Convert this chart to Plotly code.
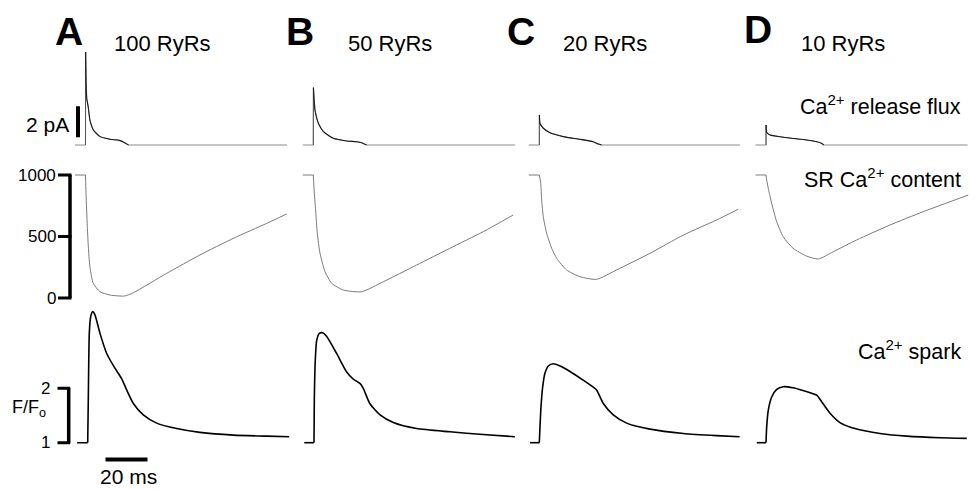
import plotly.graph_objects as go

# ---------------- data ----------------
panel_letters = ["A", "B", "C", "D"]
panel_titles = ["100 RyRs", "50 RyRs", "20 RyRs", "10 RyRs"]

# Ca2+ release flux (pA) vs time (ms)
flux_t_A = [-5, 0, 0.05, 0.25, 0.6, 1.3, 2.1, 3.7, 6.9, 11.7, 16.0, 18.0, 20.5, 96]
flux_v_A = [0, 0, 6.0, 4.0, 3.0, 2.45, 1.6, 0.97, 0.54, 0.37, 0.3, 0.2, 0, 0]
flux_t_B = [-5, 0, 0.05, 0.8, 2.4, 4.8, 9.5, 15.9, 20.6, 23.0, 25.4, 96]
flux_v_B = [0, 0, 3.7, 2.26, 1.4, 0.86, 0.43, 0.26, 0.21, 0.15, 0, 0]
flux_t_C = [-5, 0, 0.05, 0.3, 1.9, 5.1, 11.4, 19.4, 25.7, 28.1, 29.7, 95.5]
flux_v_C = [0, 0, 1.94, 1.4, 1.08, 0.79, 0.54, 0.37, 0.21, 0.06, 0, 0]
flux_t_D = [-5, 0, 0.05, 0.3, 1.9, 8.3, 19.4, 24.3, 26.6, 27.5, 96]
flux_v_D = [0, 0, 1.29, 0.8, 0.65, 0.5, 0.32, 0.21, 0.1, 0, 0]

# SR Ca2+ content (uM) vs time (ms)
sr_t_A = [-5, 0, 0.24, 0.87, 1.35, 2.1, 3.7, 6.9, 11.7, 18.5, 22.8, 38.7, 54.5, 70.4, 86.3, 95.8]
sr_v_A = [1000, 1000, 851, 580, 417, 254, 119, 51, 24, 16, 43, 201, 350, 485, 607, 683]
sr_t_B = [-5, 0, 0.48, 1.1, 1.9, 3.2, 5.6, 8.8, 14.3, 23.0, 33.3, 49.2, 65.0, 80.9, 95.2]
sr_v_B = [1000, 1000, 851, 715, 526, 363, 214, 119, 65, 51, 132, 268, 404, 539, 675]
sr_t_C = [-5, 0, 0.67, 1.14, 1.9, 3.5, 5.9, 8.3, 13.0, 19.4, 27.3, 36.8, 52.7, 68.6, 84.4, 94.7]
sr_v_C = [1000, 1000, 933, 797, 661, 526, 404, 322, 228, 173, 152, 228, 363, 512, 634, 721]
sr_t_D = [-5, 0, 0.33, 1.1, 2.7, 5.1, 8.2, 12.9, 19.3, 24.9, 32.0, 43.2, 59.0, 74.9, 96.3]
sr_v_D = [1000, 1000, 959, 891, 770, 620, 498, 404, 341, 317, 376, 472, 593, 702, 837]

# Ca2+ spark (F/F0) vs time (ms)
spark_t_A = [-4, 1.05, 1.33, 1.81, 2.48, 3.43, 4.5, 6.9, 10.1, 14.0, 17.2, 19.6, 22.8, 27.5, 33.9, 43.4, 54.5, 70.4, 86.3, 97.1]
spark_v_A = [1, 1, 1.78, 3.01, 3.32, 3.41, 3.35, 3.01, 2.64, 2.37, 2.18, 1.97, 1.72, 1.51, 1.36, 1.26, 1.19, 1.14, 1.12, 1.11]
spark_t_B = [-4.3, 0.33, 0.48, 0.95, 1.62, 2.86, 4.48, 6.4, 11.1, 15.9, 19.0, 22.2, 23.8, 26.9, 31.8, 38.1, 49.2, 65.1, 80.9, 96.0]
spark_v_B = [1, 1, 1.78, 2.52, 2.88, 3.01, 3.02, 2.95, 2.64, 2.30, 2.17, 2.09, 2.00, 1.72, 1.51, 1.37, 1.26, 1.20, 1.15, 1.11]
spark_t_C = [-4.4, 0, 0.33, 0.81, 1.62, 2.71, 4.29, 6.67, 9.86, 14.6, 20.9, 25.7, 27.3, 30.5, 35.2, 41.6, 52.7, 68.6, 84.4, 95.4]
spark_v_C = [1, 1, 1.29, 1.66, 2.03, 2.28, 2.41, 2.45, 2.41, 2.31, 2.15, 2.02, 1.97, 1.72, 1.51, 1.36, 1.25, 1.17, 1.13, 1.11]
spark_t_D = [-4.4, 0, 0.33, 1.1, 2.7, 5.1, 8.2, 12.9, 17.6, 22.4, 24.3, 27.1, 30.5, 35.2, 43.2, 54.3, 67.0, 82.9, 95.6]
spark_v_D = [1, 1, 1.29, 1.60, 1.84, 1.98, 2.03, 2.01, 1.96, 1.90, 1.87, 1.72, 1.54, 1.37, 1.25, 1.17, 1.12, 1.09, 1.08]

row_labels = ["Ca<sup>2+</sup> release flux", "SR Ca<sup>2+</sup> content", "Ca<sup>2+</sup> spark"]
sr_ticks = [0, 500, 1000]
spark_ticks = [1, 2]
flux_bar_pA = 2
time_bar_ms = 20

flux_t = [flux_t_A, flux_t_B, flux_t_C, flux_t_D]
flux_v = [flux_v_A, flux_v_B, flux_v_C, flux_v_D]
sr_t = [sr_t_A, sr_t_B, sr_t_C, sr_t_D]
sr_v = [sr_v_A, sr_v_B, sr_v_C, sr_v_D]
spark_t = [spark_t_A, spark_t_B, spark_t_C, spark_t_D]
spark_v = [spark_v_A, spark_v_B, spark_v_C, spark_v_D]

# ---------------- layout geometry ----------------
W, H = 977, 489
PX_PER_MS = 2.1
onset_px = [85.5, 313.3, 539.3, 766.0]
col_px = [(0, 289.5), (302, 517), (528, 743), (754, 970)]
# (reference value, its pixel row, pixels per unit, top px, bottom px)
row_geo = [(0.0, 145.0, 15.5, 40, 160),
           (0.0, 298.0, 0.123, 165, 310),
           (1.0, 442.7, 54.4, 300, 489)]

FONT = "Liberation Sans, Arial, sans-serif"

def px_x(p):
    return p / W

def px_y(p):
    return 1 - p / H

fig = go.Figure()
layout = dict(width=W, height=H, margin=dict(l=0, r=0, t=0, b=0),
              paper_bgcolor="white", plot_bgcolor="rgba(0,0,0,0)",
              showlegend=False)

xnames = ["x", "x2", "x3", "x4"]
for k, (l, r) in enumerate(col_px):
    s = onset_px[k]
    key = "xaxis" if k == 0 else f"xaxis{k+1}"
    layout[key] = dict(domain=[px_x(l), px_x(r)],
                       range=[(l - s) / PX_PER_MS, (r - s) / PX_PER_MS],
                       visible=False, anchor="y3")
for j, (v0, p0, sc, pt, pb) in enumerate(row_geo):
    key = "yaxis" if j == 0 else f"yaxis{j+1}"
    layout[key] = dict(domain=[px_y(pb), px_y(pt)],
                       range=[v0 - (pb - p0) / sc, v0 + (p0 - pt) / sc],
                       visible=False, anchor="x")
fig.update_layout(**layout)


def add_split(t, v, split, xa, ya, color, width, smooth):
    """baseline part straight, rest smoothed (spline)"""
    fig.add_trace(go.Scatter(x=t[:split + 1], y=v[:split + 1], mode="lines",
                             line=dict(color=color, width=width),
                             xaxis=xa, yaxis=ya, hoverinfo="skip"))
    fig.add_trace(go.Scatter(x=t[split:], y=v[split:], mode="lines",
                             line=dict(color=color, width=width, shape="spline",
                                       smoothing=smooth),
                             xaxis=xa, yaxis=ya, hoverinfo="skip"))


for k in range(4):
    xa = xnames[k]
    # flux: full trace in grey (baselines), active part in black
    fig.add_trace(go.Scatter(x=flux_t[k], y=flux_v[k], mode="lines",
                             line=dict(color="#8c8c8c", width=1),
                             xaxis=xa, yaxis="y", hoverinfo="skip"))
    act = [i for i, v in enumerate(flux_v[k]) if v > 0]
    fig.add_trace(go.Scatter(x=flux_t[k][act[0] - 1:act[0] + 1],
                             y=flux_v[k][act[0] - 1:act[0] + 1],
                             mode="lines", line=dict(color="#555555", width=1),
                             xaxis=xa, yaxis="y", hoverinfo="skip"))
    fig.add_trace(go.Scatter(x=flux_t[k][act[0]:act[-1] + 2],
                             y=flux_v[k][act[0]:act[-1] + 2],
                             mode="lines", line=dict(color="#1a1a1a", width=1.1,
                                                     shape="spline", smoothing=0.5),
                             xaxis=xa, yaxis="y", hoverinfo="skip"))
    add_split(sr_t[k], sr_v[k], 1, xa, "y2", "#7a7a7a", 1, 0.6)
    add_split(spark_t[k], spark_v[k], 1, xa, "y3", "#000000", 1.6, 0.6)

shapes = []
ann = []


def t_at(px, k=0):
    return (px - onset_px[k]) / PX_PER_MS


# 2 pA scale bar
shapes.append(dict(type="line", xref="x", yref="y", x0=t_at(78), x1=t_at(78),
                   y0=0.5, y1=0.5 + flux_bar_pA, line=dict(color="black", width=4)))
ann.append(dict(xref="x", yref="y", x=t_at(71), y=1.35, text=f"{flux_bar_pA} pA",
                showarrow=False, xanchor="right", yanchor="middle",
                font=dict(size=21, color="black", family=FONT)))

# SR bracket axis
shapes.append(dict(type="line", xref="x", yref="y2", x0=t_at(70), x1=t_at(70),
                   y0=sr_ticks[0], y1=sr_ticks[-1], line=dict(color="black", width=3.5)))
for v in sr_ticks:
    shapes.append(dict(type="line", xref="x", yref="y2", x0=t_at(58), x1=t_at(71.5),
                       y0=v, y1=v, line=dict(color="black", width=3)))
    ann.append(dict(xref="x", yref="y2", x=t_at(57.5), y=v, text=str(v),
                    showarrow=False, xanchor="right", yanchor="middle",
                    font=dict(size=17, color="black", family=FONT)))

# Spark bracket axis
shapes.append(dict(type="line", xref="x", yref="y3", x0=t_at(68.7), x1=t_at(68.7),
                   y0=spark_ticks[0], y1=spark_ticks[-1], line=dict(color="black", width=3.5)))
for v in spark_ticks:
    shapes.append(dict(type="line", xref="x", yref="y3", x0=t_at(57.5), x1=t_at(70.2),
                       y0=v, y1=v, line=dict(color="black", width=3)))
    ann.append(dict(xref="x", yref="y3", x=t_at(52), y=v, text=str(v),
                    showarrow=False, xanchor="right", yanchor="middle",
                    font=dict(size=17, color="black", family=FONT)))
ann.append(dict(xref="x", yref="y3", x=t_at(29), y=1.63, text="F/F<sub>o</sub>",
                showarrow=False, xanchor="center", yanchor="middle",
                font=dict(size=18, color="black", family=FONT)))

# 20 ms time bar
tb0 = t_at(105.5)
shapes.append(dict(type="line", xref="x", yref="y3", x0=tb0, x1=tb0 + time_bar_ms,
                   y0=0.69, y1=0.69, line=dict(color="black", width=4)))
ann.append(dict(xref="x", yref="y3", x=tb0 + time_bar_ms / 2 + 1, y=0.385,
                text=f"{time_bar_ms} ms", showarrow=False, xanchor="center",
                yanchor="middle", font=dict(size=21, color="black", family=FONT)))

# panel letters and titles
letter_px = [(69, 31), (299.5, 31), (520.5, 31), (758, 30)]
title_px = [(112, 44), (346, 44), (561, 44), (799, 44)]
for k in range(4):
    ann.append(dict(xref="paper", yref="paper", x=px_x(letter_px[k][0]), y=px_y(letter_px[k][1]),
                    text=f"<b>{panel_letters[k]}</b>", showarrow=False,
                    xanchor="center", yanchor="middle",
                    font=dict(size=39, color="black", family=FONT)))
    ann.append(dict(xref="paper", yref="paper", x=px_x(title_px[k][0]), y=px_y(title_px[k][1]),
                    text=panel_titles[k], showarrow=False,
                    xanchor="left", yanchor="middle",
                    font=dict(size=22, color="black", family=FONT)))

# row labels, right aligned
row_label_px = [105, 178, 350]
for j in range(3):
    ann.append(dict(xref="paper", yref="paper", x=px_x(963), y=px_y(row_label_px[j]),
                    text=row_labels[j], showarrow=False, xanchor="right", yanchor="middle",
                    font=dict(size=21.5, color="black", family=FONT)))

fig.update_layout(shapes=shapes, annotations=ann)
fig.write_html("out.html")
